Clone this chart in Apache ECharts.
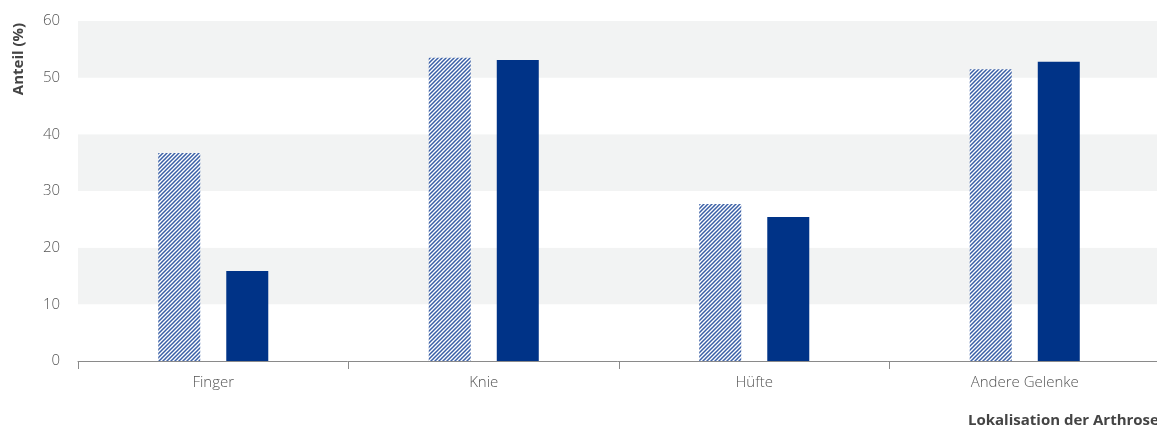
<!DOCTYPE html>
<html><head><meta charset="utf-8">
<script src="https://cdn.jsdelivr.net/npm/echarts@6/dist/echarts.min.js"></script>
<style>html,body{margin:0;padding:0;background:#fff}#c{width:1157px;height:429px}</style>
</head><body><div id="c"></div>
<script>
const categories = ['Finger', 'Knie', 'Hüfte', 'Andere Gelenke'];
const seriesHatched = [36.7, 53.5, 27.7, 51.5];
const seriesSolid = [15.9, 53.1, 25.4, 52.8];
const yTicks = [0, 10, 20, 30, 40, 50, 60];

const tile = document.createElement('canvas');
tile.width = 4; tile.height = 4;
const tc = tile.getContext('2d');
tc.fillStyle = '#ffffff'; tc.fillRect(0,0,4,4);
tc.strokeStyle = '#3a5fa6'; tc.lineWidth = 1.5;
tc.beginPath();
tc.moveTo(-1,5); tc.lineTo(5,-1);
tc.moveTo(-1,1); tc.lineTo(1,-1);
tc.moveTo(3,5); tc.lineTo(5,3);
tc.stroke();

const chart = echarts.init(document.getElementById('c'));
const font = 'Open Sans';
chart.setOption({
  animation: false,
  grid: { left: 78, width: 1082, top: 21, height: 340, outerBoundsMode: 'none', containLabel: false },
  xAxis: {
    type: 'category', data: categories,
    axisLine: { lineStyle: { color: '#8a8a8a', width: 1 } },
    axisTick: { show: true, length: 8, lineStyle: { color: '#8a8a8a' } },
    axisLabel: { color: '#555', fontSize: 15, fontFamily: font, fontWeight: 300, margin: 14 }
  },
  yAxis: {
    type: 'value', min: 0, max: 60, interval: 10,
    axisLine: { show: false }, axisTick: { show: false },
    axisLabel: { color: '#555', fontSize: 15, fontFamily: font, fontWeight: 300, margin: 18,
      formatter: v => yTicks.includes(v) ? String(v) : '' },
    splitLine: { show: false },
    splitArea: { show: true, areaStyle: { color: ['#ffffff', '#f2f3f3'] } }
  },
  graphic: [{
    type: 'text', left: 968, top: 413,
    style: { text: 'Lokalisation der Arthrose', fill: '#444', font: 'bold 15px "Open Sans"' }
  }, {
    type: 'text', x: 19, y: 59, rotation: Math.PI / 2,
    style: { text: 'Anteil (%)', fill: '#444', font: 'bold 15px "Open Sans"', align: 'center', verticalAlign: 'middle' }
  }],
  series: [
    { type: 'bar', data: seriesHatched, barWidth: 42, barGap: '62%',
      itemStyle: { color: { image: tile, repeat: 'repeat' } } },
    { type: 'bar', data: seriesSolid, barWidth: 42,
      itemStyle: { color: '#003387' } }
  ]
});
</script></body></html>
